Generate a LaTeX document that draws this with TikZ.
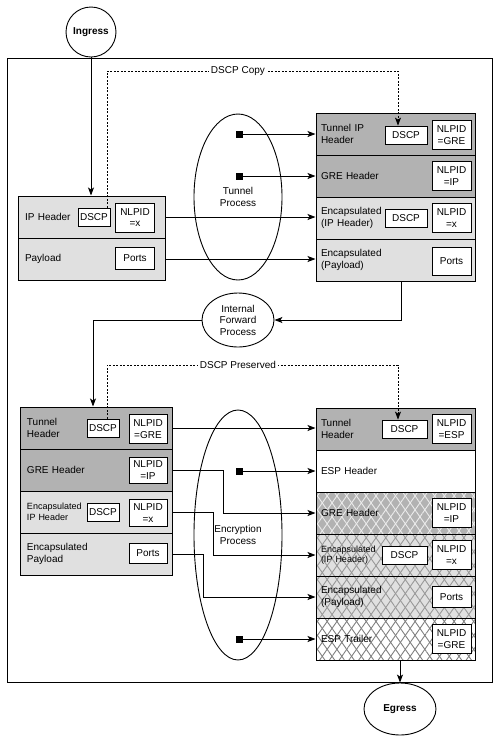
\documentclass[tikz,border=0pt]{standalone}
\usepackage{fontspec}
\setmainfont{Liberation Sans}
\usepackage{tikz}
\usetikzlibrary{arrows.meta}
\usetikzlibrary{shapes.geometric}
\usetikzlibrary{patterns.meta}

\begin{document}
\begin{tikzpicture}[x=1pt,y=-1pt,font=\fontsize{10}{11.5}\selectfont]
  \tikzset{box/.style = {draw,line width=1pt,minimum height=42pt,align=left}}
  \tikzset{lbox/.style = {box,inner xsep=7pt,text width=133pt}}
  \tikzset{mbox/.style = {box,inner xsep=7pt,text width=138pt}}
  \tikzset{rbox/.style = {box,inner xsep=5pt,text width=149pt}}
  \tikzset{dark/.style = {fill=black!30}, light/.style = {fill=black!12}}
  \tikzset{hatch/.style = {postaction={pattern={Lines[angle=55,distance=8pt,line width=0.9pt]},pattern color=#1},
                           postaction={pattern={Lines[angle=-55,distance=8pt,line width=0.9pt]},pattern color=#1},
                           postaction={draw,line width=1pt}}}
  \tikzset{fld/.style = {draw,fill=white,line width=0.8pt,align=center,inner sep=1pt}}
  \tikzset{dscp/.style = {fld,minimum height=18pt}}
  \tikzset{nlpid/.style = {fld,minimum width=39pt,minimum height=29pt}}
  \tikzset{ports/.style = {fld,minimum width=39pt,minimum height=22pt}}
  \tikzset{proc/.style = {ellipse,draw,line width=0.9pt,align=center,inner sep=0pt}}
  \tikzset{sq/.style = {fill=black,minimum size=7pt,inner sep=0pt}}
  \tikzset{link/.style = {line width=0.9pt,-{Stealth[length=8pt,width=6pt,inset=2pt]}}}
  \tikzset{copyline/.style = {line width=0.9pt,dash pattern=on 2pt off 1.5pt,-{Stealth[length=8pt,width=6pt,inset=2pt]}}}
  \tikzset{tag/.style = {fill=white,inner sep=1.5pt}}

  \useasboundingbox (0,0) rectangle (500,740);
  \draw[line width=1pt] (7,58) rectangle (492,682);

  \node[draw,circle,fill=white,line width=0.9pt,minimum size=50pt,font=\bfseries] (ingress) at (91,32) {Ingress};
  \node[draw,ellipse,fill=white,line width=0.9pt,minimum width=72pt,minimum height=52pt,font=\bfseries] (egress) at (400,709) {Egress};

  % original packet
  \node[lbox,light] (ip1) at (91.5,217) {IP Header};
  \node[lbox,light] (ip2) at (91.5,259) {Payload};
  \node[dscp,minimum width=32pt] (ipd) at (94,217) {DSCP};
  \node[nlpid] (ipn) at (135,217.5) {NLPID\\=x};
  \node[ports] (ipp) at (135,258.5) {Ports};

  % GRE packet
  \node[rbox,dark] (gre1) at (395.5,134) {Tunnel IP\\Header};
  \node[rbox,dark] (gre2) at (395.5,176) {GRE Header};
  \node[rbox,light] (gre3) at (395.5,218) {Encapsulated\\(IP Header)};
  \node[rbox,light] (gre4) at (395.5,260) {Encapsulated\\(Payload)};
  \node[dscp,minimum width=42pt] (gred1) at (406,135) {DSCP};
  \node[nlpid] (gren1) at (451.5,135) {NLPID\\=GRE};
  \node[nlpid] (gren2) at (451.5,176) {NLPID\\=IP};
  \node[dscp,minimum width=42pt] (gred3) at (406,218) {DSCP};
  \node[nlpid] (gren3) at (451.5,218) {NLPID\\=x};
  \node[ports,minimum height=28pt] (grep4) at (451.5,261) {Ports};

  % tunnel packet after forwarding
  \node[mbox,dark] (tun1) at (96,428) {Tunnel\\Header};
  \node[mbox,dark] (tun2) at (96,470) {GRE Header};
  \node[mbox,light,font=\fontsize{9}{10.5}\selectfont] (tun3) at (96,512) {Encapsulated\\IP Header};
  \node[mbox,light] (tun4) at (96,554) {Encapsulated\\Payload};
  \node[dscp,minimum width=32pt] (tund1) at (103,428) {DSCP};
  \node[nlpid,minimum width=38pt] (tunn1) at (148,429) {NLPID\\=GRE};
  \node[nlpid,minimum width=38pt,minimum height=26pt] (tunn2) at (148,470) {NLPID\\=IP};
  \node[dscp,minimum width=32pt] (tund3) at (103,512) {DSCP};
  \node[nlpid,minimum width=38pt,minimum height=27pt] (tunn3) at (148,513) {NLPID\\=x};
  \node[ports,minimum width=38pt,minimum height=20pt] (tunp4) at (148,553.5) {Ports};

  % ESP packet
  \node[rbox,dark] (esp1) at (395.5,429) {Tunnel\\Header};
  \node[rbox,fill=white] (esp2) at (395.5,471) {ESP Header};
  \node[rbox,dark,hatch=black!8] (esp3) at (395.5,513) {GRE Header};
  \node[rbox,light,hatch=black!40,font=\fontsize{9}{10.5}\selectfont] (esp4) at (395.5,555) {Encapsulated\\(IP Header)};
  \node[rbox,light,hatch=black!40] (esp5) at (395.5,597) {Encapsulated\\(Payload)};
  \node[rbox,fill=white,hatch=black!50] (esp6) at (395.5,639) {ESP Trailer};
  \node[dscp,minimum width=45pt] (espd1) at (404.5,429) {DSCP};
  \node[nlpid] (espn1) at (451.5,429) {NLPID\\=ESP};
  \node[nlpid] (espn3) at (451.5,513) {NLPID\\=IP};
  \node[dscp,minimum width=45pt] (espd4) at (404.5,555) {DSCP};
  \node[nlpid] (espn4) at (451.5,555) {NLPID\\=x};
  \node[ports,minimum height=21pt] (espp5) at (451.5,597) {Ports};
  \node[nlpid] (espn6) at (451.5,639) {NLPID\\=GRE};

  \node[proc,minimum width=88pt,minimum height=166pt] (tunproc) at (238,197) {Tunnel\\Process};
  \node[proc,minimum width=72pt,minimum height=54pt] (fwd) at (238,320) {Internal\\Forward\\Process};
  \node[proc,minimum width=88pt,minimum height=250pt] (encproc) at (238,535) {Encryption\\Process};

  \node[sq] (s1) at (239,134) {};
  \node[sq] (s2) at (239,176) {};
  \node[sq] (s3) at (239,471) {};
  \node[sq] (s4) at (239,639) {};

  \coordinate (c1) at (107,71);
  \coordinate (c2) at (398,71);
  \coordinate (c3) at (107,365);
  \coordinate (c4) at (398,365);
  \coordinate (fx) at (401,0);
  \coordinate (dx) at (93,0);

  \draw[link] (ingress) -- (ingress |- ip1.north);
  \draw[copyline] (c1 |- ipd.north) -- (c1) -- node[tag,pos=0.45] (cpy) {DSCP Copy} (c2) -- (c2 |- gred1.north);

  \foreach \from/\to in {s1/gre1, s2/gre2, ip1/gre3, ip2/gre4, tun1/esp1, s3/esp2, s4/esp6}
    \draw[link] (\from) -- (\from -| \to.west);

  \draw[link] (gre4.south -| fx) |- (fwd.east);
  \draw[link] (fwd.west) -| (dx |- tun1.north);
  \draw[copyline] (c3 |- tund1.north) -- (c3) -- node[tag,pos=0.45] (prs) {DSCP Preserved} (c4) -- (c4 |- espd1.north);

  \foreach \from/\to/\dx in {tun2/esp3/51, tun3/esp4/41, tun4/esp5/31}
    \draw[link] (\from.east) -- ++(\dx,0) |- (\to.west);

  \draw[link] (egress |- esp6.south) -- (egress);
\end{tikzpicture}
\end{document}
